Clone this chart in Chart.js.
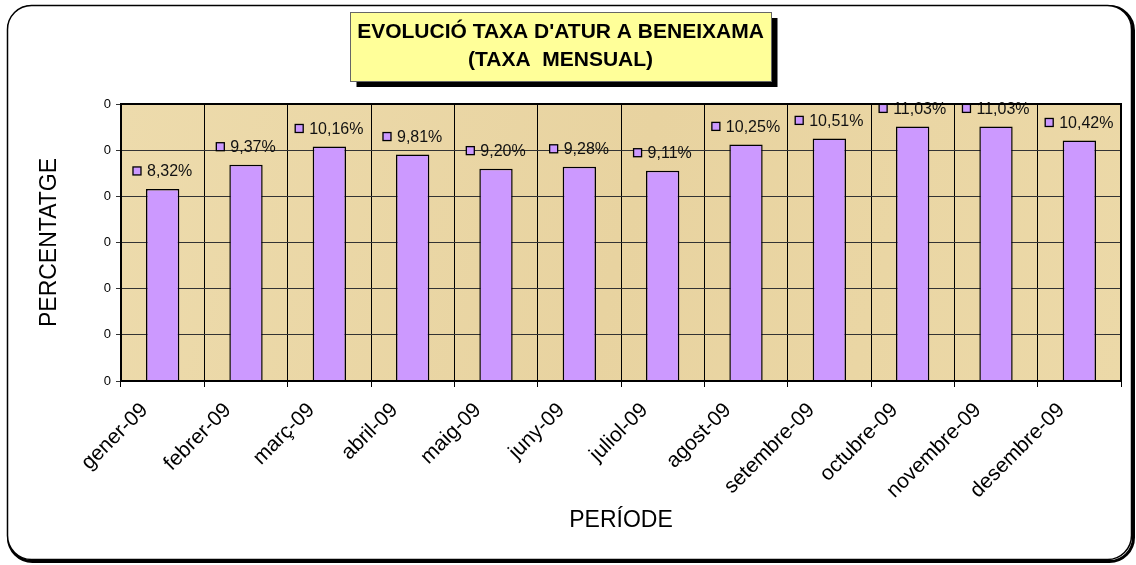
<!DOCTYPE html>
<html>
<head>
<meta charset="utf-8">
<script src="https://cdn.jsdelivr.net/npm/chart.js@4.4.1/dist/chart.umd.min.js"></script>
<style>
html, body { margin: 0; padding: 0; background: #fff; }
#wrap { width: 1136px; height: 565px; }
</style>
</head>
<body>
<div id="wrap"><canvas id="atur"></canvas></div>
<script>
const mesos = ['gener-09', 'febrer-09', 'març-09', 'abril-09', 'maig-09', 'juny-09',
    'juliol-09', 'agost-09', 'setembre-09', 'octubre-09', 'novembre-09', 'desembre-09'];
const taxa = [8.32, 9.37, 10.16, 9.81, 9.20, 9.28, 9.11, 10.25, 10.51, 11.03, 11.03, 10.42];
const yTickLabels = ['0', '0', '0', '0', '0', '0', '0'];
const titol = ["EVOLUCIÓ TAXA D'ATUR A BENEIXAMA", '(TAXA  MENSUAL)'];

const FONT = "'Liberation Sans', Arial, sans-serif";
const LILA = '#CC99FF';
const TITOL_PX = 21;

// marc arrodonit, caixa del titol i fons de pergami
const fons = {
    id: 'fons',
    beforeDraw(chart) {
        const ctx = chart.ctx;
        const a = chart.chartArea;
        ctx.save();
        ctx.fillStyle = '#fff';
        ctx.fillRect(0, 0, chart.width, chart.height);

        ctx.strokeStyle = '#000';
        ctx.lineWidth = 3;
        ctx.beginPath();
        ctx.roundRect(8.5, 6.5, 1125, 555, 24);
        ctx.stroke();
        ctx.fillStyle = '#fff';
        ctx.lineWidth = 1.5;
        ctx.beginPath();
        ctx.roundRect(7.5, 5.5, 1124, 554, 24);
        ctx.fill();
        ctx.stroke();

        // caixa groga del titol
        ctx.font = 'bold ' + TITOL_PX + 'px ' + FONT;
        const w = Math.max(...titol.map(t => ctx.measureText(t).width));
        const cx = (chart.titleBlock.left + chart.titleBlock.right) / 2;
        const x0 = Math.round(cx - w / 2 - 7) + 0.5;
        const bw = Math.round(w + 14);
        ctx.fillStyle = '#000';
        ctx.fillRect(x0 + 6, 18, bw, 69);
        ctx.fillStyle = '#FFFF99';
        ctx.fillRect(x0, 12, bw, 69);
        ctx.strokeStyle = '#666';
        ctx.lineWidth = 1;
        ctx.strokeRect(x0, 12.5, bw, 69);

        // pergami
        const g = ctx.createLinearGradient(a.left, a.top, a.right, a.bottom);
        g.addColorStop(0, '#EDDBAC');
        g.addColorStop(0.5, '#E8D3A0');
        g.addColorStop(1, '#ECD9A8');
        ctx.fillStyle = g;
        ctx.fillRect(a.left, a.top, a.right - a.left, a.bottom - a.top);
        ctx.restore();
    },
    afterDatasetsDraw(chart) {
        const ctx = chart.ctx;
        const a = chart.chartArea;
        const bars = chart.getDatasetMeta(0).data;
        ctx.save();
        ctx.font = '16px ' + FONT;
        ctx.textBaseline = 'middle';
        ctx.textAlign = 'left';
        bars.forEach((bar, i) => {
            const txt = taxa[i].toFixed(2).replace('.', ',') + '%';
            const tw = ctx.measureText(txt).width;
            const total = 8 + 6 + tw;
            const x = bar.x - total / 2;
            const y = bar.y - 18;
            ctx.fillStyle = LILA;
            ctx.fillRect(x, y - 4, 8, 8);
            ctx.strokeStyle = '#000';
            ctx.lineWidth = 1.3;
            ctx.strokeRect(x, y - 4, 8, 8);
            ctx.fillStyle = '#111';
            ctx.fillText(txt, x + 14, y + 1);
        });
        // vora de l'area de dibuix
        ctx.strokeStyle = '#000';
        ctx.lineWidth = 2;
        ctx.strokeRect(a.left, a.top, a.right - a.left, a.bottom - a.top);
        ctx.restore();
    }
};

new Chart(document.getElementById('atur'), {
    type: 'bar',
    data: {
        labels: mesos,
        datasets: [{
            label: 'Taxa d\'atur',
            data: taxa,
            backgroundColor: LILA,
            borderColor: '#000',
            borderWidth: 1.5,
            barPercentage: 0.4,
            categoryPercentage: 1
        }]
    },
    options: {
        responsive: true,
        maintainAspectRatio: false,
        animation: false,
        layout: { padding: { left: 0, right: 15, top: 0, bottom: 0 } },
        plugins: {
            legend: { display: false },
            tooltip: { enabled: false },
            title: {
                display: true,
                text: titol,
                color: '#000',
                font: { family: FONT, size: TITOL_PX, weight: 'bold', lineHeight: 28 / TITOL_PX },
                padding: { top: 18, bottom: 30 }
            }
        },
        scales: {
            x: {
                afterFit(scale) { scale.height = 184; },
                grid: { color: '#000', lineWidth: 1, offset: true, tickLength: 6 },
                border: { color: '#000', width: 2 },
                ticks: {
                    color: '#000',
                    font: { family: FONT, size: 21 },
                    maxRotation: 45,
                    minRotation: 45,
                    labelOffset: -18,
                    padding: 11,
                    autoSkip: false
                },
                title: {
                    display: true,
                    text: 'PERÍODE',
                    color: '#000',
                    font: { family: FONT, size: 23 },
                    padding: { bottom: 31 }
                }
            },
            y: {
                min: 0,
                max: 12,
                afterFit(scale) { scale.width = 121; },
                grid: { color: '#333', lineWidth: 1, tickLength: 5 },
                border: { color: '#000', width: 2 },
                ticks: {
                    stepSize: 2,
                    color: '#000',
                    font: { family: FONT, size: 13 },
                    padding: 5,
                    callback: (v, i) => yTickLabels[i]
                },
                title: {
                    display: true,
                    text: 'PERCENTATGE',
                    color: '#000',
                    font: { family: FONT, size: 23 },
                    padding: { top: 36 }
                }
            }
        }
    },
    plugins: [fons]
});
</script>
</body>
</html>
